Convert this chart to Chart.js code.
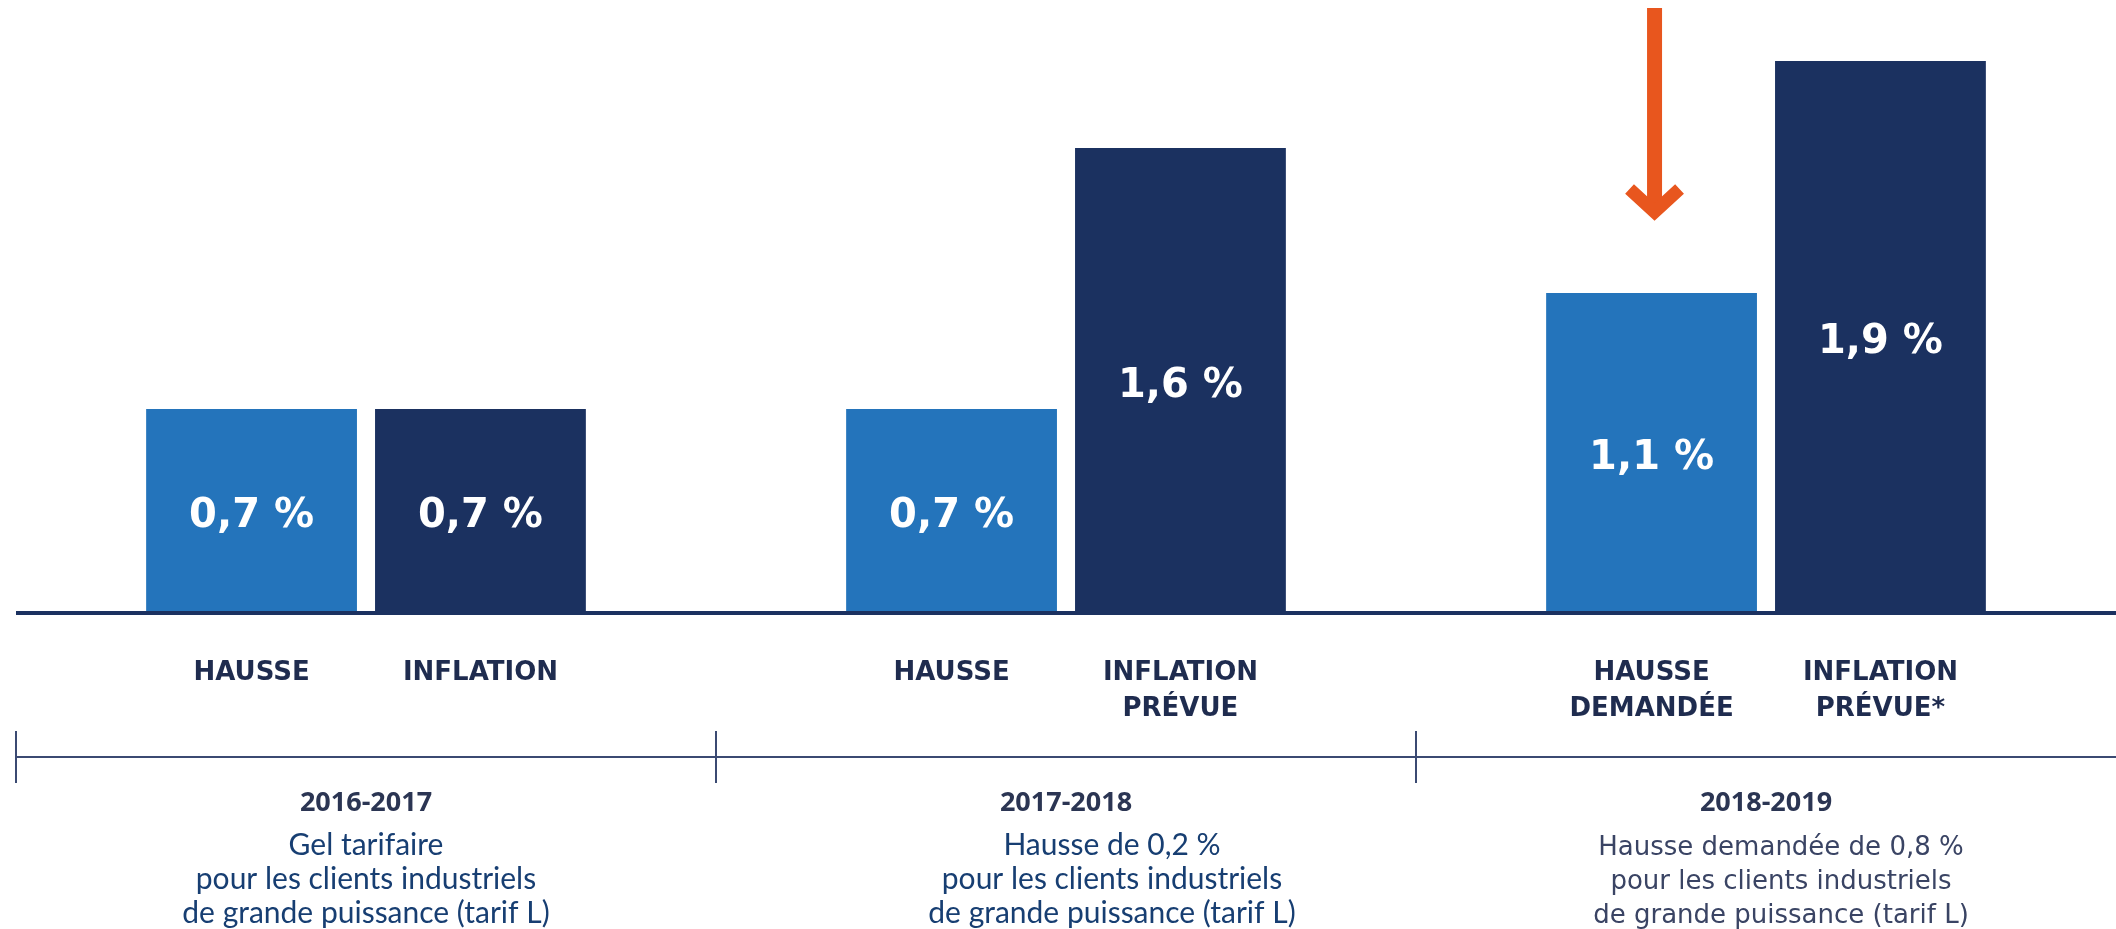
<!DOCTYPE html>
<html>
<head>
<meta charset="utf-8">
<script src="https://cdn.jsdelivr.net/npm/chart.js@4.4.1/dist/chart.umd.min.js"></script>
<style>
  html, body { margin: 0; padding: 0; background: #fff; }
  #wrap { width: 2116px; height: 929px; }
</style>
</head>
<body>
<div id="wrap"><canvas id="chart" width="2116" height="929"></canvas></div>
<script>
// Data
const periods = ['2016-2017', '2017-2018', '2018-2019'];
const hausse = [0.7, 0.7, 1.1];
const inflation = [0.7, 1.6, 1.9];
const hausseLabels = [['HAUSSE'], ['HAUSSE'], ['HAUSSE', 'DEMANDÉE']];
const inflationLabels = [['INFLATION'], ['INFLATION', 'PRÉVUE'], ['INFLATION', 'PRÉVUE*']];
const descriptions = [
  ['Gel tarifaire', 'pour les clients industriels', 'de grande puissance (tarif L)'],
  ['Hausse de 0,2 %', 'pour les clients industriels', 'de grande puissance (tarif L)'],
  ['Hausse demandée de 0,8 %', 'pour les clients industriels', 'de grande puissance (tarif L)']
];

// Colours and layout
const lightBlue = '#2474bb';
const navy = '#1b3160';
const labelColor = '#1f2c4f';
const descOffsets = [0, 46, 15];
const descFonts = ['30px Lato', '30px Lato', '26px "DejaVu Sans"'];
const descColors = ['#173e72', '#173e72', '#3a4464'];

function formatValue(v) {
  return v.toFixed(1).replace('.', ',') + ' %';
}

// Draws value labels, bar captions, baseline, timeline, periods and the arrow
const overlay = {
  id: 'overlay',
  afterDatasetsDraw(chart) {
    const ctx = chart.ctx;
    const area = chart.chartArea;
    const xScale = chart.scales.x;
    const captions = [hausseLabels, inflationLabels];
    ctx.save();

    // baseline
    ctx.strokeStyle = navy;
    ctx.lineWidth = 4;
    ctx.beginPath();
    ctx.moveTo(area.left, area.bottom + 1);
    ctx.lineTo(area.right, area.bottom + 1);
    ctx.stroke();

    chart.data.datasets.forEach((ds, di) => {
      chart.getDatasetMeta(di).data.forEach((bar, i) => {
        const mid = (bar.y + bar.base) / 2;
        ctx.fillStyle = '#fff';
        ctx.font = 'bold 40px "DejaVu Sans"';
        ctx.textAlign = 'center';
        ctx.textBaseline = 'alphabetic';
        ctx.fillText(formatValue(ds.data[i]), bar.x, mid + 17);

        ctx.fillStyle = labelColor;
        ctx.font = 'bold 26px "DejaVu Sans"';
        captions[di][i].forEach((line, li) => {
          ctx.fillText(line, bar.x, area.bottom + 68 + li * 36);
        });
      });
    });

    // timeline
    const catWidth = (area.right - area.left) / periods.length;
    const lineY = area.bottom + 145;
    ctx.strokeStyle = '#3b4a72';
    ctx.lineWidth = 2;
    ctx.beginPath();
    ctx.moveTo(area.left, lineY);
    ctx.lineTo(area.right, lineY);
    ctx.stroke();
    periods.forEach((p, i) => {
      const cx = xScale.getPixelForValue(i);
      const tickX = cx - catWidth / 2;
      ctx.beginPath();
      ctx.moveTo(tickX, lineY - 26);
      ctx.lineTo(tickX, lineY + 26);
      ctx.stroke();

      ctx.fillStyle = '#2b3553';
      ctx.font = 'bold 27px "Open Sans"';
      ctx.fillText(p, cx, area.bottom + 199);

      ctx.fillStyle = descColors[i];
      ctx.font = descFonts[i];
      descriptions[i].forEach((line, li) => {
        ctx.fillText(line, cx + descOffsets[i], area.bottom + 243 + li * 34);
      });
    });

    // arrow over the requested raise
    const target = chart.getDatasetMeta(0).data[2];
    const ax = target.x + 3;
    const tipY = target.y - 76;
    ctx.strokeStyle = '#e8561e';
    ctx.lineWidth = 15;
    ctx.lineCap = 'butt';
    ctx.beginPath();
    ctx.moveTo(ax, 8);
    ctx.lineTo(ax, tipY - 8);
    ctx.stroke();
    ctx.lineWidth = 13;
    ctx.lineJoin = 'miter';
    ctx.beginPath();
    ctx.moveTo(ax - 25, tipY - 28);
    ctx.lineTo(ax, tipY - 5);
    ctx.lineTo(ax + 25, tipY - 28);
    ctx.stroke();

    ctx.restore();
  }
};

new Chart(document.getElementById('chart'), {
  type: 'bar',
  data: {
    labels: periods,
    datasets: [
      { label: 'Hausse', data: hausse, backgroundColor: lightBlue, categoryPercentage: 0.654, barPercentage: 0.921 },
      { label: 'Inflation', data: inflation, backgroundColor: navy, categoryPercentage: 0.654, barPercentage: 0.921 }
    ]
  },
  options: {
    responsive: false,
    animation: false,
    layout: { padding: { left: 16, right: 0, top: 0, bottom: 317 } },
    plugins: { legend: { display: false }, tooltip: { enabled: false } },
    scales: {
      x: { display: false },
      y: { display: false, min: 0, max: 2.11 }
    }
  },
  plugins: [overlay]
});
</script>
</body>
</html>
